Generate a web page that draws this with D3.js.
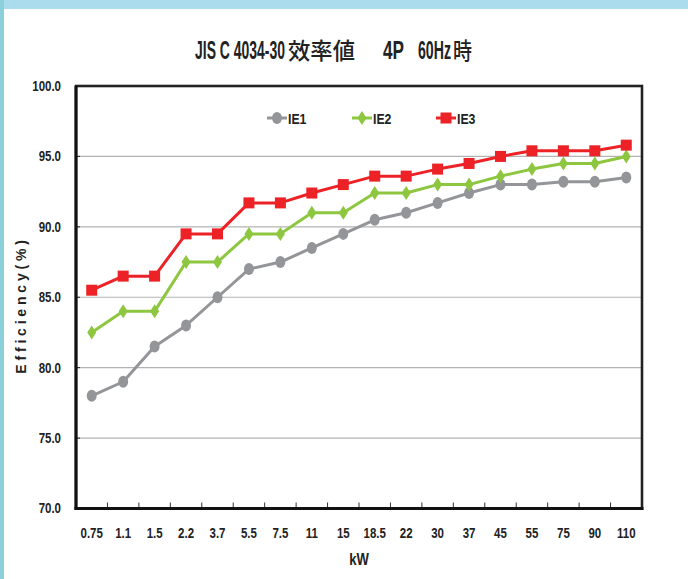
<!DOCTYPE html>
<html><head><meta charset="utf-8">
<script src="https://cdn.jsdelivr.net/npm/d3@7"></script>
<style>
html,body{margin:0;padding:0;background:#fff;}
svg{display:block;}
</style></head>
<body>
<script>
const categories = ["0.75","1.1","1.5","2.2","3.7","5.5","7.5","11","15","18.5","22","30","37","45","55","75","90","110"];
const ie1 = [78.0,79.0,81.5,83.0,85.0,87.0,87.5,88.5,89.5,90.5,91.0,91.7,92.4,93.0,93.0,93.2,93.2,93.5];
const ie2 = [82.5,84.0,84.0,87.5,87.5,89.5,89.5,91.0,91.0,92.4,92.4,93.0,93.0,93.6,94.1,94.5,94.5,95.0];
const ie3 = [85.5,86.5,86.5,89.5,89.5,91.7,91.7,92.4,93.0,93.6,93.6,94.1,94.5,95.0,95.4,95.4,95.4,95.8];
const yTicks = [70,75,80,85,90,95,100];
const seriesNames = ["IE1","IE2","IE3"];

(function(){
const W = 688, H = 579;
const SANS = "'Liberation Sans',Arial,sans-serif";
const CJK = "'Noto Sans CJK JP','Noto Sans CJK SC',sans-serif";
const svg = d3.select("body").append("svg").attr("width", W).attr("height", H);

function narrow(sel, f) {
  sel.each(function(){
    const l = this.getComputedTextLength();
    d3.select(this).attr("textLength", l * (f || 0.82)).attr("lengthAdjust", "spacingAndGlyphs");
  });
}

// background strips
svg.append("rect").attr("x",0).attr("y",0).attr("width",W).attr("height",H).attr("fill","#fff");
svg.append("rect").attr("x",0).attr("y",0).attr("width",W).attr("height",9).attr("fill","#aadcee");
svg.append("rect").attr("x",0).attr("y",0).attr("width",4).attr("height",H).attr("fill","#8cd0dc");

const pL = 76, pR = 642, pT = 86, pB = 508.5;
const x = d3.scaleBand().domain(categories).range([pL, pR]);
const y = d3.scaleLinear().domain([70,100]).range([pB, pT]);

// gridlines
svg.append("g").selectAll("line").data(yTicks.filter(d => d > 70 && d < 100)).join("line")
  .attr("x1", pL).attr("x2", pR).attr("y1", d => y(d)).attr("y2", d => y(d))
  .attr("stroke", "#b3b3b3").attr("stroke-width", 1.2);

// y axis labels
const yAxis = d3.axisLeft(y).tickValues(yTicks).tickSize(0).tickPadding(15).tickFormat(d3.format(".1f"));
const gy = svg.append("g").attr("transform", `translate(${pL},0)`).call(yAxis);
gy.select(".domain").remove();
gy.selectAll("text").attr("font-family", SANS).attr("font-weight","bold").attr("font-size",14).attr("fill","#222").call(narrow);

// y inner ticks
svg.append("g").selectAll("line").data(yTicks.filter(d => d > 70 && d < 100)).join("line")
  .attr("x1", pL).attr("x2", pL+4).attr("y1", d => y(d)).attr("y2", d => y(d))
  .attr("stroke", "#222").attr("stroke-width", 1);

// x axis labels
const xAxis = d3.axisBottom(x).tickSize(0).tickPadding(20);
const gx = svg.append("g").attr("transform", `translate(0,${pB})`).call(xAxis);
gx.select(".domain").remove();
gx.selectAll("text").attr("font-family", SANS).attr("font-weight","bold").attr("font-size",14).attr("fill","#222").call(narrow);

// x inner ticks at category boundaries
svg.append("g").selectAll("line").data(categories.slice(1)).join("line")
  .attr("x1", d => x(d)).attr("x2", d => x(d)).attr("y1", pB).attr("y2", pB-6)
  .attr("stroke", "#333").attr("stroke-width", 1);

// frame
svg.append("rect").attr("x", pL).attr("y", pT).attr("width", pR-pL).attr("height", pB-pT)
  .attr("fill","none").attr("stroke","#222").attr("stroke-width",2.6);
svg.append("line").attr("x1",pL).attr("x2",pL).attr("y1",pT).attr("y2",pB+1.5).attr("stroke","#111").attr("stroke-width",3);
svg.append("line").attr("x1",pL-1.5).attr("x2",pR+1.5).attr("y1",pB).attr("y2",pB).attr("stroke","#111").attr("stroke-width",3);

// series
const cx = c => x(c) + x.bandwidth()/2;
const colors = {IE1:"#939598", IE2:"#8dc63f", IE3:"#ec2227"};
const datasets = {IE1: ie1, IE2: ie2, IE3: ie3};
const line = d3.line().x((d,i) => cx(categories[i])).y(d => y(d));

function marker(g, name, px, py) {
  const c = colors[name];
  if (name === "IE1") {
    g.append("ellipse").attr("cx",px).attr("cy",py).attr("rx",5).attr("ry",6).attr("fill",c);
  } else if (name === "IE2") {
    g.append("path").attr("d", `M${px},${py-7}L${px+4.5},${py}L${px},${py+7}L${px-4.5},${py}Z`).attr("fill",c);
  } else {
    g.append("rect").attr("x",px-5.5).attr("y",py-5.5).attr("width",11).attr("height",11).attr("fill",c);
  }
}

seriesNames.forEach(name => {
  const g = svg.append("g");
  g.append("path").datum(datasets[name]).attr("d", line).attr("fill","none")
    .attr("stroke", colors[name]).attr("stroke-width", 3).attr("stroke-linejoin","round");
  datasets[name].forEach((v,i) => marker(g, name, cx(categories[i]), y(v)));
});

// legend
const legendX = {IE1: 267, IE2: 352, IE3: 436};
const ly = 118;
seriesNames.forEach(name => {
  const g = svg.append("g");
  const lx = legendX[name];
  g.append("line").attr("x1",lx).attr("x2",lx+20).attr("y1",ly).attr("y2",ly).attr("stroke",colors[name]).attr("stroke-width",3);
  marker(g, name, lx+10, ly);
  g.append("text").attr("x", lx+21).attr("y", ly+5.5).text(name)
    .attr("font-family", SANS).attr("font-weight","bold").attr("font-size",15).attr("fill","#222").call(narrow);
});

// title (segments fitted to the reference's extents, scaled horizontally)
const titleSegs = [
  {t:"JIS C 4034-30", x0:195, x1:285, cjk:false},
  {t:"效率値", x0:288, x1:355, cjk:true},
  {t:"4P", x0:383, x1:404, cjk:false},
  {t:"60Hz", x0:418, x1:451, cjk:false},
  {t:"時", x0:453, x1:472, cjk:true}
];
titleSegs.forEach(s => {
  const t = svg.append("text").attr("x", 0).attr("y", 0).attr("fill","#222").attr("font-size", s.cjk ? 23 : 25)
    .attr("font-family", s.cjk ? CJK : SANS).attr("font-weight", s.cjk ? 500 : "bold").text(s.t);
  const w = t.node().getComputedTextLength();
  t.attr("transform", `translate(${s.x0},59) scale(${(s.x1 - s.x0) / w},1)`);
});

// axis titles
svg.append("text").attr("x", (pL+pR)/2).attr("y", 565).attr("text-anchor","middle")
  .attr("font-family",SANS).attr("font-weight","bold").attr("font-size",16).attr("fill","#222").text("kW").call(narrow);
svg.append("text").attr("transform","translate(26,305) rotate(-90)").attr("text-anchor","middle")
  .attr("font-family",SANS).attr("font-weight","bold").attr("font-size",14)
  .attr("letter-spacing",3.8).attr("fill","#222").text("Efficiency(%)");
})();
</script>
</body></html>
